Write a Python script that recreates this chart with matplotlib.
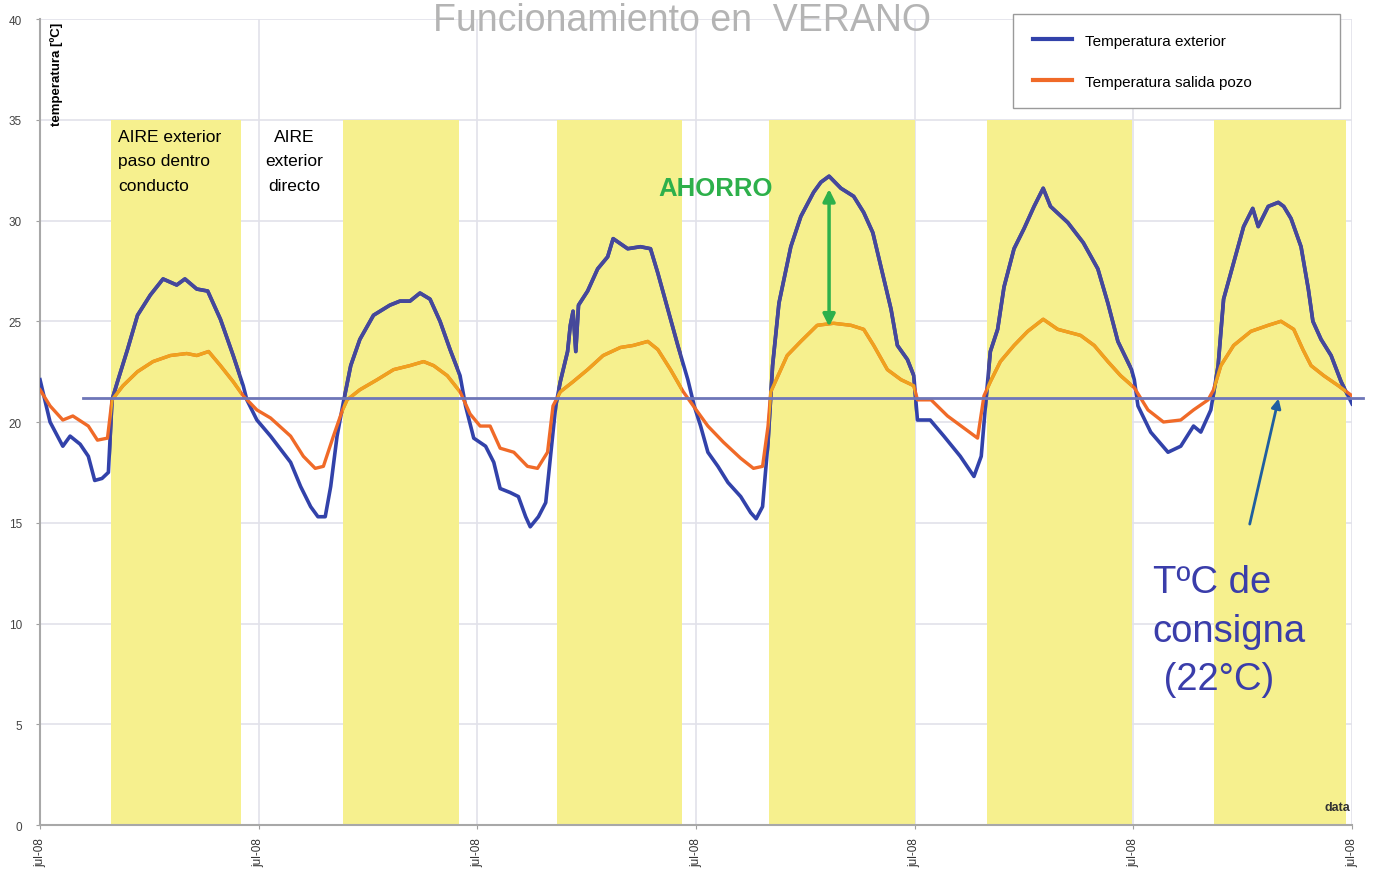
import matplotlib.pyplot as plt
from matplotlib.patches import Rectangle

plt.rcParams['font.family'] = ['Liberation Sans', 'DejaVu Sans']

# hours from the start of the record, temperature in degC
hours_ext = [0.0, 1.1, 2.5, 3.3, 4.4, 5.3, 6.0, 6.8, 7.5, 7.9, 8.5, 9.6, 10.7,
             12.1, 13.5, 15.0, 15.9, 17.2, 18.4, 19.8, 21.2, 22.3, 22.7, 23.8,
             25.3, 27.5, 28.6, 29.7, 30.5, 31.3, 31.9, 32.6, 33.3, 34.1, 35.1,
             36.6, 38.4, 39.5, 40.6, 41.7, 42.8, 43.9, 45.0, 46.1, 46.7, 47.6,
             48.9, 49.8, 50.5, 51.6, 52.5, 53.3, 53.8, 54.7, 55.5, 56.0, 56.6,
             57.1, 57.9, 58.2, 58.5, 58.8, 59.1, 60.1, 61.2, 62.3, 62.9, 64.5,
             65.9, 67.0, 67.8, 68.9, 70.0, 71.1, 71.8, 72.5, 73.3, 74.4, 75.5,
             76.9, 78.0, 78.6, 79.3, 79.9, 80.4, 81.1, 82.4, 83.5, 84.9, 85.7,
             86.6, 87.9, 89.3, 90.4, 91.4, 92.3, 93.4, 94.1, 95.2, 95.9, 96.3,
             97.7, 99.2, 101.0, 102.5, 103.3, 103.8, 104.3, 105.1, 105.8, 106.9,
             108.0, 109.1, 110.1, 110.9, 112.8, 114.5, 116.1, 117.2, 118.3,
             119.8, 120.1, 120.5, 121.9, 123.8, 125.2, 126.6, 127.4, 128.5,
             129.3, 129.9, 131.0, 132.1, 133.1, 133.7, 134.8, 135.9, 136.5,
             137.3, 138.4, 139.2, 139.7, 140.6, 141.7, 142.8, 144.0]
temp_ext = [22.1, 20.0, 18.8, 19.3, 18.9, 18.3, 17.1, 17.2, 17.5, 21.1, 22.0,
            23.6, 25.3, 26.3, 27.1, 26.8, 27.1, 26.6, 26.5, 25.1, 23.3, 21.8,
            21.1, 20.1, 19.3, 18.0, 16.8, 15.8, 15.3, 15.3, 16.8, 19.3, 21.0,
            22.8, 24.1, 25.3, 25.8, 26.0, 26.0, 26.4, 26.1, 25.0, 23.6, 22.3,
            20.8, 19.2, 18.8, 18.0, 16.7, 16.5, 16.3, 15.3, 14.8, 15.3, 16.0,
            18.2, 20.8, 22.0, 23.5, 24.8, 25.5, 23.5, 25.8, 26.5, 27.6, 28.2,
            29.1, 28.6, 28.7, 28.6, 27.4, 25.6, 23.8, 22.1, 20.8, 19.8, 18.5,
            17.8, 17.0, 16.3, 15.5, 15.2, 15.8, 19.0, 22.8, 25.9, 28.7, 30.2,
            31.4, 31.9, 32.2, 31.6, 31.2, 30.4, 29.4, 27.7, 25.6, 23.8, 23.1,
            22.3, 20.1, 20.1, 19.3, 18.3, 17.3, 18.3, 21.0, 23.5, 24.6, 26.7,
            28.6, 29.6, 30.7, 31.6, 30.7, 29.9, 28.9, 27.6, 25.9, 24.0, 22.6,
            22.1, 20.8, 19.5, 18.5, 18.8, 19.8, 19.5, 20.6, 22.8, 26.1, 27.9,
            29.7, 30.6, 29.7, 30.7, 30.9, 30.7, 30.1, 28.7, 26.6, 25.0, 24.1,
            23.3, 22.0, 20.9]

hours_pozo = [0.0, 1.1, 2.5, 3.6, 5.3, 6.3, 7.4, 7.9, 9.1, 10.7, 12.4, 14.3,
              16.1, 17.2, 18.5, 19.8, 21.2, 22.3, 23.8, 25.3, 27.5, 28.9, 30.2,
              31.1, 32.2, 33.2, 33.7, 35.1, 37.0, 38.8, 40.6, 42.1, 43.2, 44.7,
              46.1, 47.2, 48.3, 49.4, 50.5, 52.0, 53.5, 54.6, 55.7, 56.3, 57.1,
              58.5, 60.1, 61.8, 63.7, 65.1, 66.7, 67.8, 69.2, 70.6, 71.7, 73.3,
              75.0, 76.9, 78.3, 79.3, 79.9, 80.2, 81.0, 82.0, 83.5, 85.3, 87.1,
              89.0, 90.4, 91.5, 93.0, 94.5, 95.9, 96.3, 97.8, 99.6, 101.4,
              102.9, 103.6, 104.3, 105.4, 106.9, 108.4, 110.1, 111.7, 114.2,
              115.7, 117.2, 118.6, 120.1, 121.6, 123.3, 125.2, 126.6, 128.2,
              128.8, 129.6, 131.0, 132.9, 134.8, 136.2, 137.6, 138.6, 139.5,
              140.9, 142.5, 144.0]
temp_pozo = [21.6, 20.8, 20.1, 20.3, 19.8, 19.1, 19.2, 21.1, 21.8, 22.5, 23.0,
             23.3, 23.4, 23.3, 23.5, 22.8, 22.0, 21.3, 20.6, 20.2, 19.3, 18.3,
             17.7, 17.8, 19.3, 20.6, 21.1, 21.6, 22.1, 22.6, 22.8, 23.0, 22.8,
             22.3, 21.5, 20.4, 19.8, 19.8, 18.7, 18.5, 17.8, 17.7, 18.5, 20.8,
             21.5, 22.0, 22.6, 23.3, 23.7, 23.8, 24.0, 23.6, 22.6, 21.5, 20.8,
             19.8, 19.0, 18.2, 17.7, 17.8, 19.8, 21.5, 22.3, 23.3, 24.0, 24.8,
             24.9, 24.8, 24.6, 23.8, 22.6, 22.1, 21.8, 21.1, 21.1, 20.3, 19.7,
             19.2, 21.3, 22.0, 23.0, 23.8, 24.5, 25.1, 24.6, 24.3, 23.8, 23.0,
             22.3, 21.7, 20.6, 20.0, 20.1, 20.6, 21.1, 21.6, 22.8, 23.8, 24.5,
             24.8, 25.0, 24.6, 23.6, 22.8, 22.3, 21.8, 21.3]

# periods where the outside air goes through the buried duct
band_start = [7.8, 33.2, 56.7, 80.0, 103.9, 128.8]
band_end = [22.1, 46.0, 70.5, 96.0, 119.9, 143.3]
band_top = 35

consigna = 21.2
day_ticks = [0, 24, 48, 72, 96, 120, 144]
day_labels = ['jul-08'] * 7

blue = '#3242AA'
blue_band = '#46489A'
orange = '#F06A28'
orange_band = '#EFA21E'

fig = plt.figure(figsize=(13.76, 8.78), dpi=100)
ax = fig.add_axes([0.0291, 0.0592, 0.9535, 0.918])

ax.set_xlim(0, 144)
ax.set_ylim(0, 40)
ax.set_yticks(range(0, 45, 5))
ax.set_xticks(day_ticks)
ax.set_xticklabels(day_labels, rotation=90, fontsize=8.5, color='#333333')
ax.tick_params(axis='y', labelsize=8.5, labelcolor='#444444', length=3,
               color='#A0A0A0', pad=10)
ax.tick_params(axis='x', length=3, color='#A0A0A0', pad=6)
ax.grid(True, color='#E2E2EA', lw=1.2)
ax.set_axisbelow(True)
for s in ['top', 'right']:
    ax.spines[s].set_visible(False)
for s in ['left', 'bottom']:
    ax.spines[s].set_color('#A8A8A8')
    ax.spines[s].set_linewidth(1.5)

for s, e in zip(band_start, band_end):
    ax.fill_between([s, e], 0, band_top, color='#F6F08E', lw=0, zorder=1)

ax.plot(hours_ext, temp_ext, color=blue, lw=2.6, zorder=3,
        label='Temperatura exterior')
ax.plot(hours_pozo, temp_pozo, color=orange, lw=2.4, zorder=3,
        label='Temperatura salida pozo')

# inside the yellow bands the lines look darker / golden
for s, e in zip(band_start, band_end):
    clip = Rectangle((s, 0), e - s, band_top, transform=ax.transData)
    l1, = ax.plot(hours_ext, temp_ext, color=blue_band, lw=2.6, zorder=4)
    l2, = ax.plot(hours_pozo, temp_pozo, color=orange_band, lw=2.4, zorder=4)
    l1.set_clip_path(clip)
    l2.set_clip_path(clip)

ax.plot([4.7, 145.2], [consigna, consigna], color='#6E76B8', lw=2,
        zorder=5, clip_on=False)

ax.text(0.0076, 0.997, 'temperatura [ºC]', rotation=90, transform=ax.transAxes,
        va='top', ha='left', fontsize=9.5, fontweight='bold')
ax.text(143.8, 0.9, 'data', ha='right', va='center', fontsize=9,
        fontweight='bold', color='#333333')

fig.text(0.496, 0.976, 'Funcionamiento en  VERANO', ha='center', va='center',
         fontsize=27, color='#B4B4B4')

ax.text(8.6, 34.55, 'AIRE exterior\npaso dentro\nconducto', va='top',
        ha='left', fontsize=12.5, linespacing=1.78, zorder=6)
ax.text(27.9, 34.55, 'AIRE\nexterior\ndirecto', va='top', ha='center',
        multialignment='center', fontsize=12.5, linespacing=1.78, zorder=6)

ax.text(74.1, 31.6, 'AHORRO', ha='center', va='center', fontsize=18.5,
        fontweight='bold', color='#2DB04B', zorder=6)
ax.annotate('', xy=(86.6, 24.6), xytext=(86.6, 31.7), zorder=6,
            arrowprops=dict(arrowstyle='<|-|>', color='#2DB04B', lw=2.5,
                            mutation_scale=18))

ax.annotate('', xy=(136.0, 21.3), xytext=(132.7, 14.8), zorder=6,
            arrowprops=dict(arrowstyle='-|>', color='#1F5FA0', lw=2,
                            mutation_scale=14))
ax.text(122.1, 12.95, 'TºC de\nconsigna\n (22°C)', va='top', ha='left',
        fontsize=27.5, color='#3A3DAA', linespacing=1.45, zorder=6)

leg = fig.legend(loc='upper left', bbox_to_anchor=(0.736, 0.883, 0.238, 0.1),
                 mode='expand', fontsize=11, handlelength=2.6,
                 handletextpad=0.8, labelspacing=1.75, borderpad=1.3,
                 borderaxespad=0, fancybox=False, framealpha=1,
                 edgecolor='#9A9A9A')
leg.get_frame().set_linewidth(1)
for h in leg.legend_handles:
    h.set_linewidth(3)

fig.savefig('out.png', dpi=100)
